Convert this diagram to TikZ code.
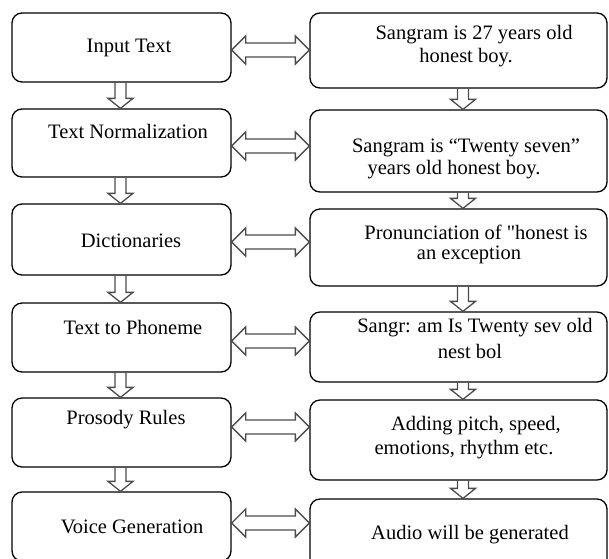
\documentclass[tikz,border=0pt]{standalone}
\usepackage{fontspec}
\setmainfont{Liberation Serif}
\newfontfamily\rawserif{Liberation Serif}
\usetikzlibrary{calc}
\tikzset{
  box/.style={draw=black, line width=1.3pt, rounded corners=10pt, inner sep=0pt},
  lbox/.style={box, minimum width=219pt},
  rbox/.style={box, minimum width=297pt},
  lbl/.style={inner sep=0pt, font=\fontsize{20.5}{24}\selectfont},
  blk/.style={draw=black!70, line width=1.3pt, line join=miter},
}
\newcommand{\dnarr}[3]{%
  \draw[blk] let \p1=($(#1)+(#3,0)$), \p2=(#2) in
   (\x1-5.5pt,\y1) -- (\x1-5.5pt,\y2+10pt) -- (\x1-12.5pt,\y2+10pt) -- (\x1,\y2)
   -- (\x1+12.5pt,\y2+10pt) -- (\x1+5.5pt,\y2+10pt) -- (\x1+5.5pt,\y1);}
\newcommand{\dblarr}[3]{%
  \draw[blk] let \p1=(#1.east |- #3), \p2=(#2.west |- #3) in
   (\x1,\y1) -- (\x1+14pt,\y1+14pt) -- (\x1+14pt,\y1+7pt) -- (\x2-14pt,\y1+7pt)
   -- (\x2-14pt,\y1+14pt) -- (\x2,\y1) -- (\x2-14pt,\y1-14pt) -- (\x2-14pt,\y1-7pt)
   -- (\x1+14pt,\y1-7pt) -- (\x1+14pt,\y1-14pt) -- cycle;}
\begin{document}
\begin{tikzpicture}[x=1pt,y=-1pt]
\useasboundingbox (0,0) rectangle (609,558);
\clip (0,0) rectangle (609,558);
% left boxes
\node[lbox, minimum height=69pt] (L1) at (121.5,47.5) {};
\node[lbox, minimum height=68pt] (L2) at (121.5,143) {};
\node[lbox, minimum height=71pt] (L3) at (121.5,239.5) {};
\node[lbox, minimum height=69pt] (L4) at (121.5,337.5) {};
\node[lbox, minimum height=69pt] (L5) at (121.5,432.5) {};
\node[lbox, minimum height=69pt] (L6) at (121.5,526.5) {};
% right boxes
\node[rbox, minimum height=75pt] (R1) at (458.5,50.5) {};
\node[rbox, minimum height=82pt] (R2) at (458.5,151) {};
\node[rbox, minimum height=77pt] (R3) at (458.5,247.5) {};
\node[rbox, minimum height=70pt] (R4) at (458.5,347) {};
\node[rbox, minimum height=80pt] (R5) at (458.5,440) {};
\node[rbox, minimum height=81pt] (R6) at (458.5,539.5) {};
% left texts
\node[lbl] (tL1) at (129,48) {Input Text};
\node[lbl] (tL2) at (128,131) {Text Normalization};
\node[lbl] (tL3) at (131,241) {Dictionaries};
\node[lbl] (tL4) at (133,327) {Text to Phoneme};
\node[lbl] (tL5) at (126,420) {Prosody Rules};
\node[lbl] (tL6) at (132,527) {Voice Generation};
% right texts
\node[lbl] (tR1a) at (474,35) {Sangram is 27 years old};
\node[lbl] (tR1b) at (466,58) {honest boy.};
\node[lbl] (tR2a) at (466,148) {Sangram is “Twenty seven”};
\node[lbl] (tR2b) at (454,170) {years old honest boy.};
\node[lbl] (tR3a) at (476,232) {Pronunciation of {\rawserif"}honest is};
\node[lbl] (tR3b) at (469,255) {an exception};
\node[lbl] (tR4a) at (475,328) {Sangr: am Is Twenty sev old};
\node[lbl] (tR4b) at (470,351) {nest bol};
\node[lbl] (tR5a) at (476,426) {Adding pitch, speed,};
\node[lbl] (tR5b) at (464,450) {emotions, rhythm etc.};
\node[lbl] (tR6) at (470,535) {Audio will be generated};
% down arrows
\dnarr{L1.south}{L2.north}{-1}
\dnarr{L2.south}{L3.north}{-1}
\dnarr{L3.south}{L4.north}{-1}
\dnarr{L4.south}{L5.north}{-1}
\dnarr{L5.south}{L6.north}{-1}
\dnarr{R1.south}{R2.north}{4.5}
\dnarr{R2.south}{R3.north}{4.5}
\dnarr{R3.south}{R4.north}{4.5}
\dnarr{R4.south}{R5.north}{4.5}
\dnarr{R5.south}{R6.north}{4.5}
% double arrows
\coordinate (a1) at (0,50);
\coordinate (a2) at (0,146);
\coordinate (a3) at (0,242);
\coordinate (a4) at (0,341);
\coordinate (a5) at (0,427);
\coordinate (a6) at (0,523);
\dblarr{L1}{R1}{a1}
\dblarr{L2}{R2}{a2}
\dblarr{L3}{R3}{a3}
\dblarr{L4}{R4}{a4}
\dblarr{L5}{R5}{a5}
\dblarr{L6}{R6}{a6}
\end{tikzpicture}
\end{document}
